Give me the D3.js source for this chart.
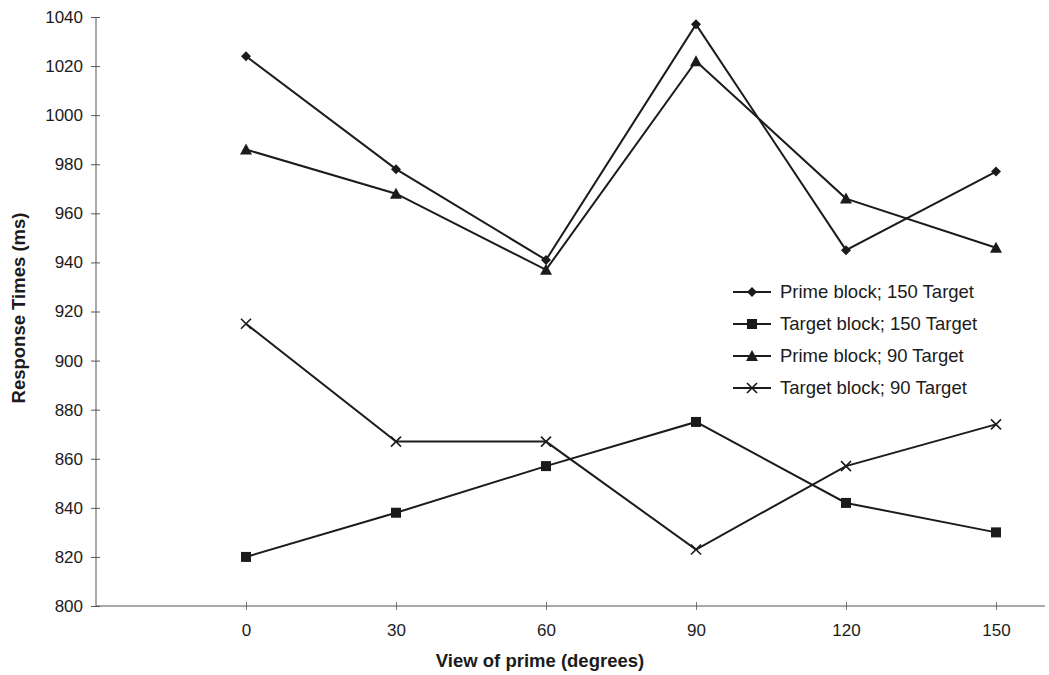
<!DOCTYPE html>
<html>
<head>
<meta charset="utf-8">
<script src="https://cdn.jsdelivr.net/npm/d3@7"></script>
<style>
  body { margin: 0; background: #fff; }
  svg { display: block; font-family: 'Liberation Sans', Arial, sans-serif; }
</style>
</head>
<body>
<svg id="chart" width="1049" height="675"></svg>
<script>
'use strict';

// values (ms)
var categories = ['0', '30', '60', '90', '120', '150'];
var primeBlock150 = [1024, 978, 941, 1037, 945, 977];
var targetBlock150 = [820, 838, 857, 875, 842, 830];
var primeBlock90 = [986, 968, 937, 1022, 966, 946];
var targetBlock90 = [915, 867, 867, 823, 857, 874];
var seriesNames = ['Prime block; 150 Target', 'Target block; 150 Target',
                   'Prime block; 90 Target', 'Target block; 90 Target'];
var yTicks = [800, 820, 840, 860, 880, 900, 920, 940, 960, 980, 1000, 1020, 1040];

var series = [
  { name: seriesNames[0], values: primeBlock150, marker: 'diamond' },
  { name: seriesNames[1], values: targetBlock150, marker: 'square' },
  { name: seriesNames[2], values: primeBlock90, marker: 'triangle' },
  { name: seriesNames[3], values: targetBlock90, marker: 'cross' }
];

var svg = d3.select('#chart');
var ink = '#1b1b1b';
var font = "'Liberation Sans', Arial, sans-serif";

// blank slot in front of 0, as in the original sheet
var x = d3.scalePoint()
  .domain([''].concat(categories))
  .range([96, 996]);

var y = d3.scaleLinear()
  .domain([800, 1040])
  .range([606, 17]);

// y axis
var yAxis = svg.append('g')
  .attr('transform', 'translate(96,0)')
  .call(d3.axisLeft(y).tickValues(yTicks).tickFormat(d3.format('d'))
    .tickSize(5).tickPadding(8));
yAxis.select('.domain').remove();
yAxis.append('line')
  .attr('x1', 0).attr('x2', 0)
  .attr('y1', y(1040)).attr('y2', y(800))
  .attr('stroke', '#555');
yAxis.selectAll('.tick line').attr('x1', 4).attr('stroke', '#555');
yAxis.selectAll('.tick text')
  .attr('font-size', 17).attr('fill', ink).attr('font-family', font);

// x axis
var xAxis = svg.append('g')
  .attr('transform', 'translate(0,' + y(800) + ')')
  .call(d3.axisBottom(x).tickValues(categories).tickSize(4).tickPadding(14));
xAxis.select('.domain').remove();
xAxis.append('line')
  .attr('x1', 96).attr('x2', 1045)
  .attr('y1', 0).attr('y2', 0)
  .attr('stroke', '#555');
xAxis.selectAll('.tick line').attr('y1', -4).attr('stroke', '#777');
xAxis.selectAll('.tick text')
  .attr('font-size', 17).attr('fill', ink).attr('font-family', font);

// axis titles
svg.append('text')
  .attr('x', 540).attr('y', 667)
  .attr('text-anchor', 'middle')
  .attr('font-size', 18.5).attr('font-weight', 'bold').attr('fill', ink)
  .text('View of prime (degrees)');

svg.append('text')
  .attr('transform', 'translate(25,308) rotate(-90)')
  .attr('text-anchor', 'middle')
  .attr('font-size', 18.5).attr('font-weight', 'bold').attr('fill', ink)
  .text('Response Times (ms)');

function drawMarker(g, type) {
  if (type === 'diamond') {
    g.append('path').attr('d', 'M0,-5L5,0L0,5L-5,0Z').attr('fill', ink);
  } else if (type === 'square') {
    g.append('rect').attr('x', -5).attr('y', -5).attr('width', 10).attr('height', 10)
      .attr('fill', ink);
  } else if (type === 'triangle') {
    g.append('path').attr('d', 'M0,-6L6,5L-6,5Z').attr('fill', ink);
  } else {
    g.append('path').attr('d', 'M-5,-5L5,5M-5,5L5,-5')
      .attr('stroke', ink).attr('stroke-width', 1.6).attr('fill', 'none');
  }
}

var line = d3.line()
  .x(function(d, i) { return x(categories[i]); })
  .y(function(d) { return y(d); });

series.forEach(function(s) {
  svg.append('path')
    .datum(s.values)
    .attr('d', line)
    .attr('fill', 'none')
    .attr('stroke', ink)
    .attr('stroke-width', 2);

  s.values.forEach(function(v, i) {
    var g = svg.append('g')
      .attr('transform', 'translate(' + x(categories[i]) + ',' + y(v) + ')');
    drawMarker(g, s.marker);
  });
});

// legend
var legend = svg.append('g').attr('transform', 'translate(733,292)');
series.forEach(function(s, i) {
  var row = legend.append('g').attr('transform', 'translate(0,' + (i * 32) + ')');
  row.append('line')
    .attr('x1', 0).attr('x2', 38)
    .attr('stroke', ink).attr('stroke-width', 2);
  drawMarker(row.append('g').attr('transform', 'translate(19,0)'), s.marker);
  row.append('text')
    .attr('x', 47).attr('y', 6)
    .attr('font-size', 18.5).attr('fill', ink)
    .text(s.name);
});
</script>
</body>
</html>
